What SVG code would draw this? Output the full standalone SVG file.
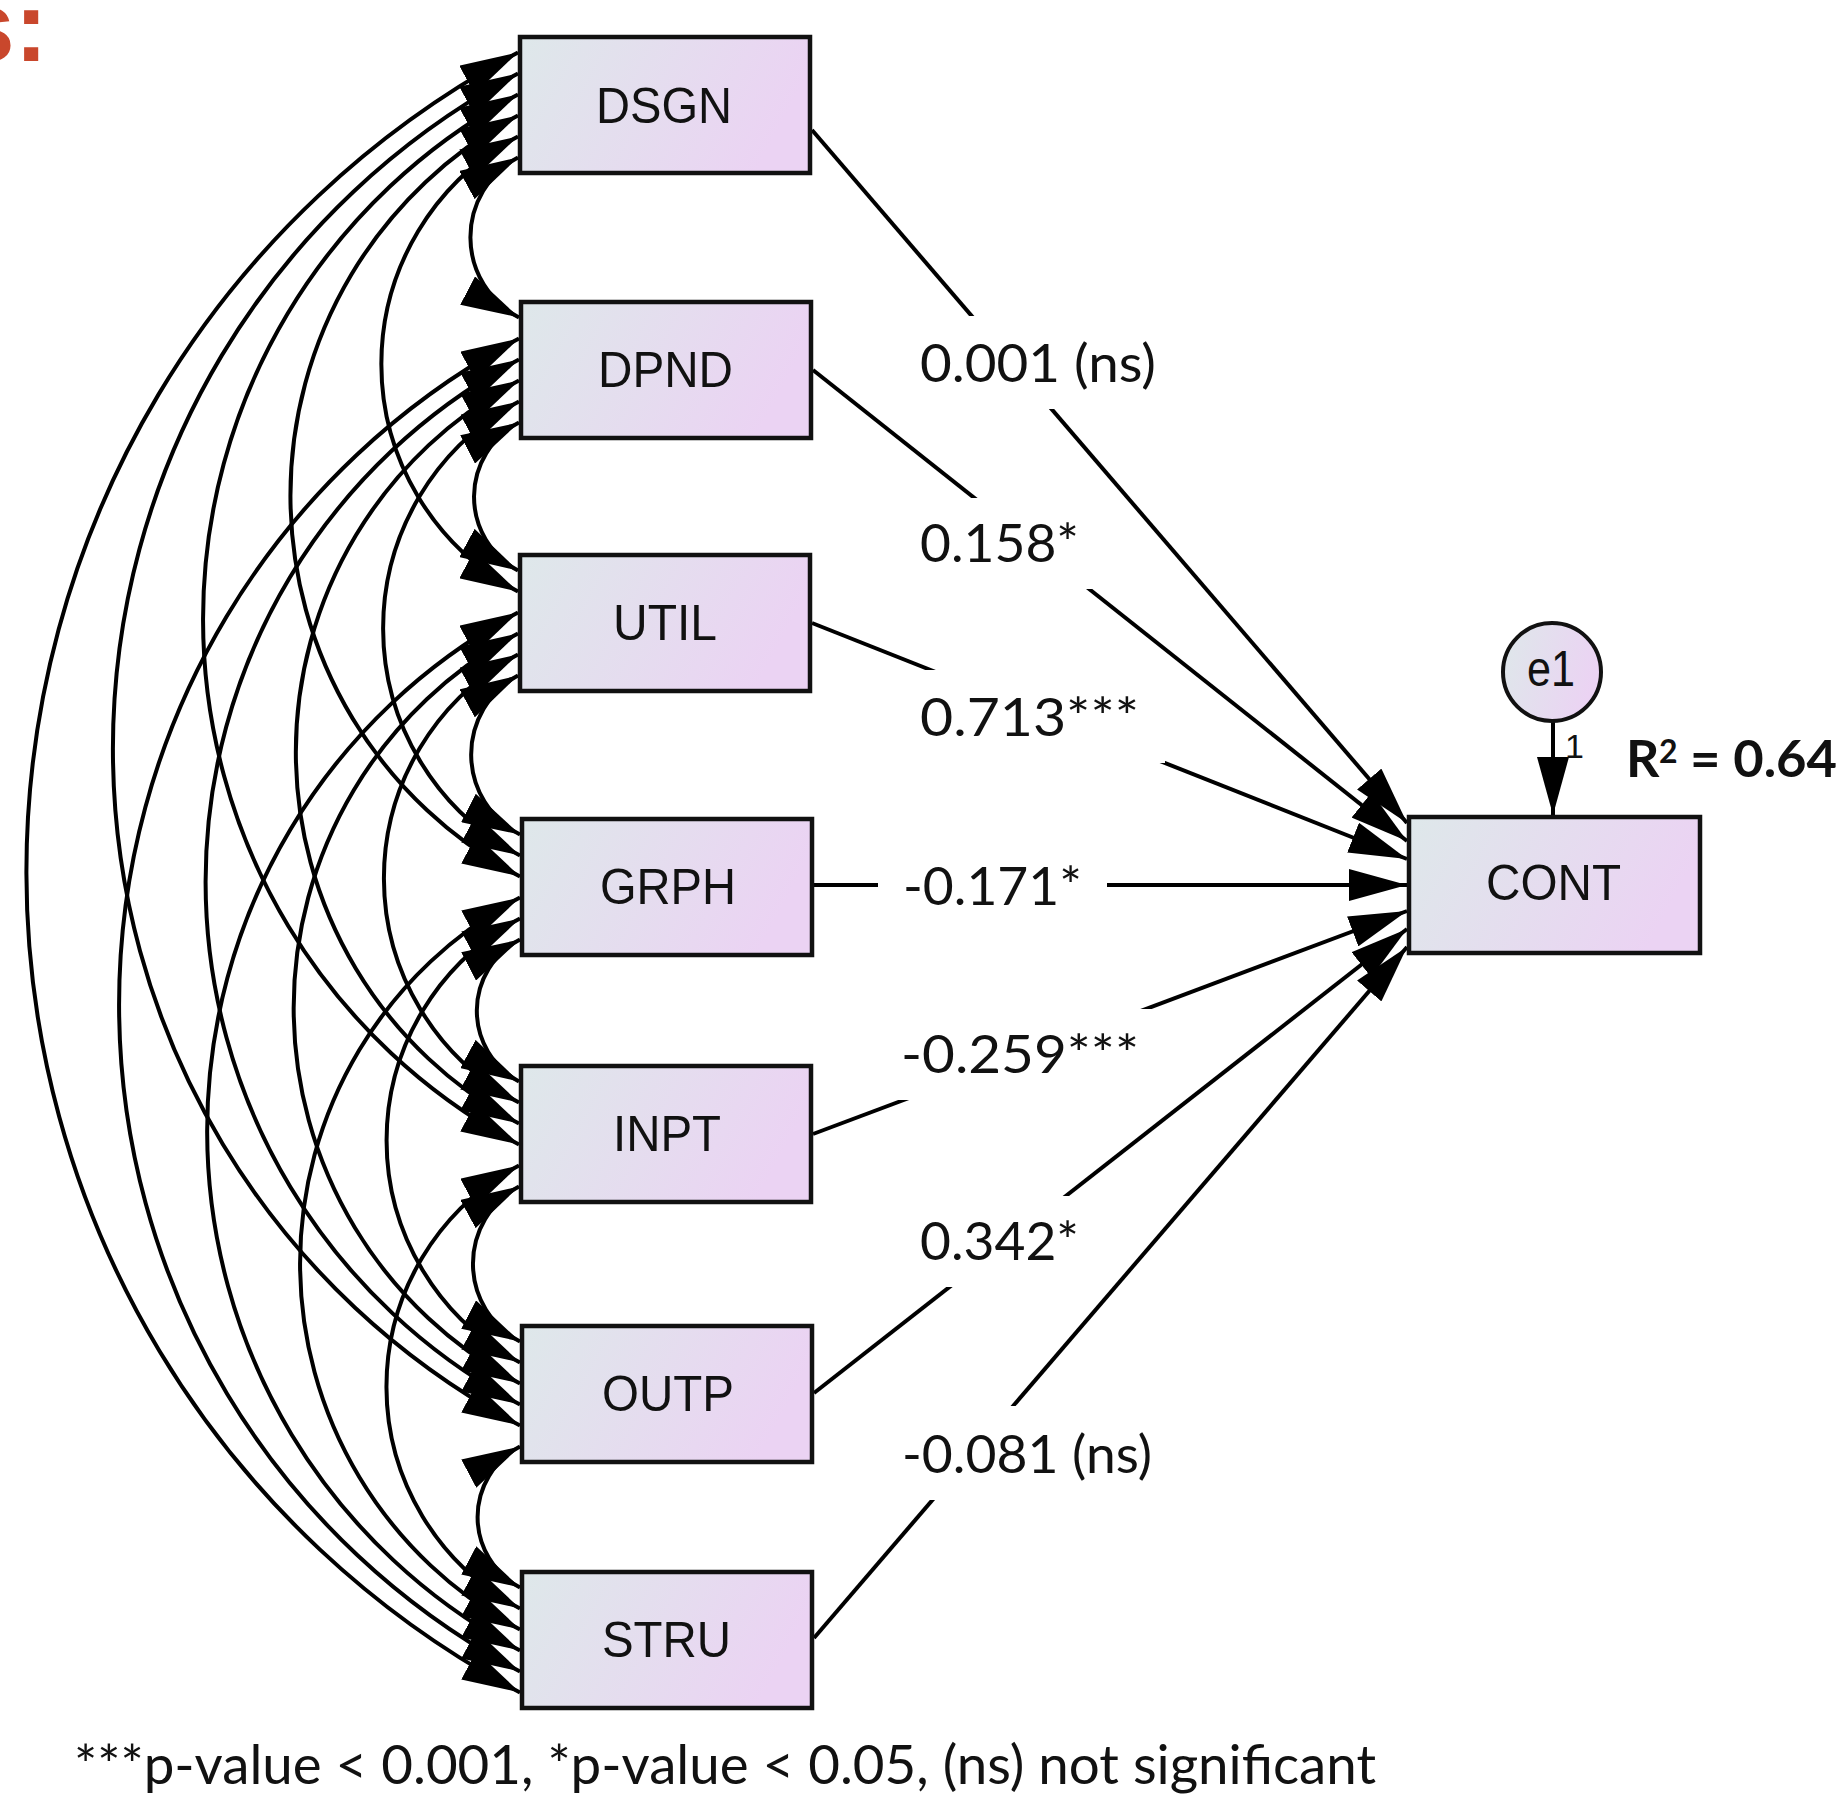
<svg xmlns="http://www.w3.org/2000/svg" width="1842" height="1794" viewBox="0 0 1842 1794">
<style>
.box{stroke:#111;stroke-width:4.5;fill:url(#g)}
.nt{font-family:"Liberation Sans",Arial,sans-serif;font-size:50px;fill:#111}
.lb{font-family:Lato,"Liberation Sans",sans-serif;font-size:52px;fill:#111}
.cn{fill:none;stroke:#000;stroke-width:4}
.cv{marker-start:url(#ah);marker-end:url(#ah)}
.rg{marker-end:url(#ah)}
.bg{fill:#fff}
</style>
<defs>
<linearGradient id="g" x1="0" y1="0" x2="1" y2="0.25">
<stop offset="0" stop-color="#dee8ea"/>
<stop offset="1" stop-color="#ebd3f3"/>
</linearGradient>
<marker id="ah" viewBox="0 0 58 32" refX="58" refY="16" markerWidth="58" markerHeight="32" markerUnits="userSpaceOnUse" orient="auto-start-reverse">
<path d="M0,0 L58,16 L0,32 Z" fill="#000"/>
</marker>
</defs>
<rect width="1842" height="1794" fill="#fff"/>
<text x="-41" y="61" font-family="Liberation Sans,Arial,sans-serif" font-weight="700" font-size="100" fill="#c9472c">s:</text>

<g id="connectors">
<g class="cn cv">
<path d="M518,157.5 A90.6,90.6 0 0 0 519,317.5"/>
<path d="M518,136.5 A257.7,257.7 0 0 0 518,591.5"/>
<path d="M518,115.5 A431,431 0 0 0 520,876.5"/>
<path d="M518,94.5 A594.6,594.6 0 0 0 519,1144.5"/>
<path d="M518,73.5 A765.7,765.7 0 0 0 520,1425.5"/>
<path d="M518,52.5 A928.8,928.8 0 0 0 520,1692.5"/>
<path d="M519,422.5 A83.8,83.8 0 0 0 518,570.5"/>
<path d="M519,401.5 A257.1,257.1 0 0 0 520,855.5"/>
<path d="M519,380.5 A420.8,420.8 0 0 0 519,1123.5"/>
<path d="M519,359.5 A591.8,591.8 0 0 0 520,1404.5"/>
<path d="M519,338.5 A754.9,754.9 0 0 0 520,1671.5"/>
<path d="M518,675.5 A90,90 0 0 0 520,834.5"/>
<path d="M518,654.5 A253.7,253.7 0 0 0 519,1102.5"/>
<path d="M518,633.5 A424.7,424.7 0 0 0 520,1383.5"/>
<path d="M518,612.5 A587.8,587.8 0 0 0 520,1650.5"/>
<path d="M520,939.5 A80.4,80.4 0 0 0 519,1081.5"/>
<path d="M520,918.5 A251.4,251.4 0 0 0 520,1362.5"/>
<path d="M520,897.5 A414.5,414.5 0 0 0 520,1629.5"/>
<path d="M519,1186.5 A87.8,87.8 0 0 0 520,1341.5"/>
<path d="M519,1165.5 A250.9,250.9 0 0 0 520,1608.5"/>
<path d="M520,1446.5 A79.8,79.8 0 0 0 520,1587.5"/>
</g>
<g class="cn rg">
<path d="M812,130 L1407,823"/>
<path d="M813,370 L1407,841"/>
<path d="M812,623 L1407,859"/>
<path d="M814,885 L1407,885"/>
<path d="M813,1134 L1407,911"/>
<path d="M814,1393 L1407,929"/>
<path d="M814,1638 L1407,947"/>
<path d="M1553,722 L1553,815"/>
</g>
</g>

<g id="path-labels">
<rect class="bg" x="896" y="316" width="285" height="93"/>
<rect class="bg" x="896" y="498" width="209" height="91"/>
<rect class="bg" x="896" y="670" width="269" height="93"/>
<rect class="bg" x="878" y="840" width="229" height="92"/>
<rect class="bg" x="876" y="1009" width="288" height="91"/>
<rect class="bg" x="896" y="1196" width="209" height="91"/>
<rect class="bg" x="877" y="1406" width="300" height="94"/>
<text class="lb" x="920" y="382" textLength="236" lengthAdjust="spacingAndGlyphs">0.001 (ns)</text>
<text class="lb" x="920" y="562" textLength="159" lengthAdjust="spacingAndGlyphs">0.158*</text>
<text class="lb" x="920" y="736" textLength="219" lengthAdjust="spacingAndGlyphs">0.713***</text>
<text class="lb" x="903" y="905" textLength="179" lengthAdjust="spacingAndGlyphs">-0.171*</text>
<text class="lb" x="901" y="1073" textLength="238" lengthAdjust="spacingAndGlyphs">-0.259***</text>
<text class="lb" x="920" y="1260" textLength="159" lengthAdjust="spacingAndGlyphs">0.342*</text>
<text class="lb" x="902" y="1473" textLength="250" lengthAdjust="spacingAndGlyphs">-0.081 (ns)</text>
<text font-family="Liberation Sans,Arial,sans-serif" font-size="34" fill="#111" x="1565" y="758">1</text>
<text font-family="Lato,'Liberation Sans',sans-serif" font-weight="700" font-size="52" fill="#111" y="777"><tspan x="1626">R</tspan><tspan x="1659" dy="-14" font-size="32">2</tspan><tspan x="1690" dy="14" textLength="147" lengthAdjust="spacingAndGlyphs">= 0.64</tspan></text>
</g>

<g id="DSGN"><rect class="box" x="520" y="37" width="290" height="136"/><text class="nt" x="596" y="123" textLength="136" lengthAdjust="spacingAndGlyphs">DSGN</text></g>
<g id="DPND"><rect class="box" x="521" y="302" width="290" height="136"/><text class="nt" x="598" y="387" textLength="135" lengthAdjust="spacingAndGlyphs">DPND</text></g>
<g id="UTIL"><rect class="box" x="520" y="555" width="290" height="136"/><text class="nt" x="613" y="640" textLength="104" lengthAdjust="spacingAndGlyphs">UTIL</text></g>
<g id="GRPH"><rect class="box" x="522" y="819" width="290" height="136"/><text class="nt" x="600" y="904" textLength="136" lengthAdjust="spacingAndGlyphs">GRPH</text></g>
<g id="INPT"><rect class="box" x="521" y="1066" width="290" height="136"/><text class="nt" x="613" y="1151" textLength="108" lengthAdjust="spacingAndGlyphs">INPT</text></g>
<g id="OUTP"><rect class="box" x="522" y="1326" width="290" height="136"/><text class="nt" x="602" y="1411" textLength="132" lengthAdjust="spacingAndGlyphs">OUTP</text></g>
<g id="STRU"><rect class="box" x="522" y="1572" width="290" height="136"/><text class="nt" x="602" y="1657" textLength="129" lengthAdjust="spacingAndGlyphs">STRU</text></g>
<g id="CONT"><rect class="box" x="1409" y="817" width="291" height="136"/><text class="nt" x="1486" y="900" textLength="135" lengthAdjust="spacingAndGlyphs">CONT</text></g>
<g id="e1"><circle cx="1552" cy="672" r="49" stroke="#111" stroke-width="4" fill="url(#g)"/><text class="nt" x="1527" y="686" font-size="44" textLength="48" lengthAdjust="spacingAndGlyphs">e1</text></g>

<text font-family="Lato,'Liberation Sans',sans-serif" font-size="55" fill="#111" x="74" y="1784" textLength="1302" lengthAdjust="spacingAndGlyphs">***p-value &lt; 0.001, *p-value &lt; 0.05, (ns) not significant</text>
</svg>
